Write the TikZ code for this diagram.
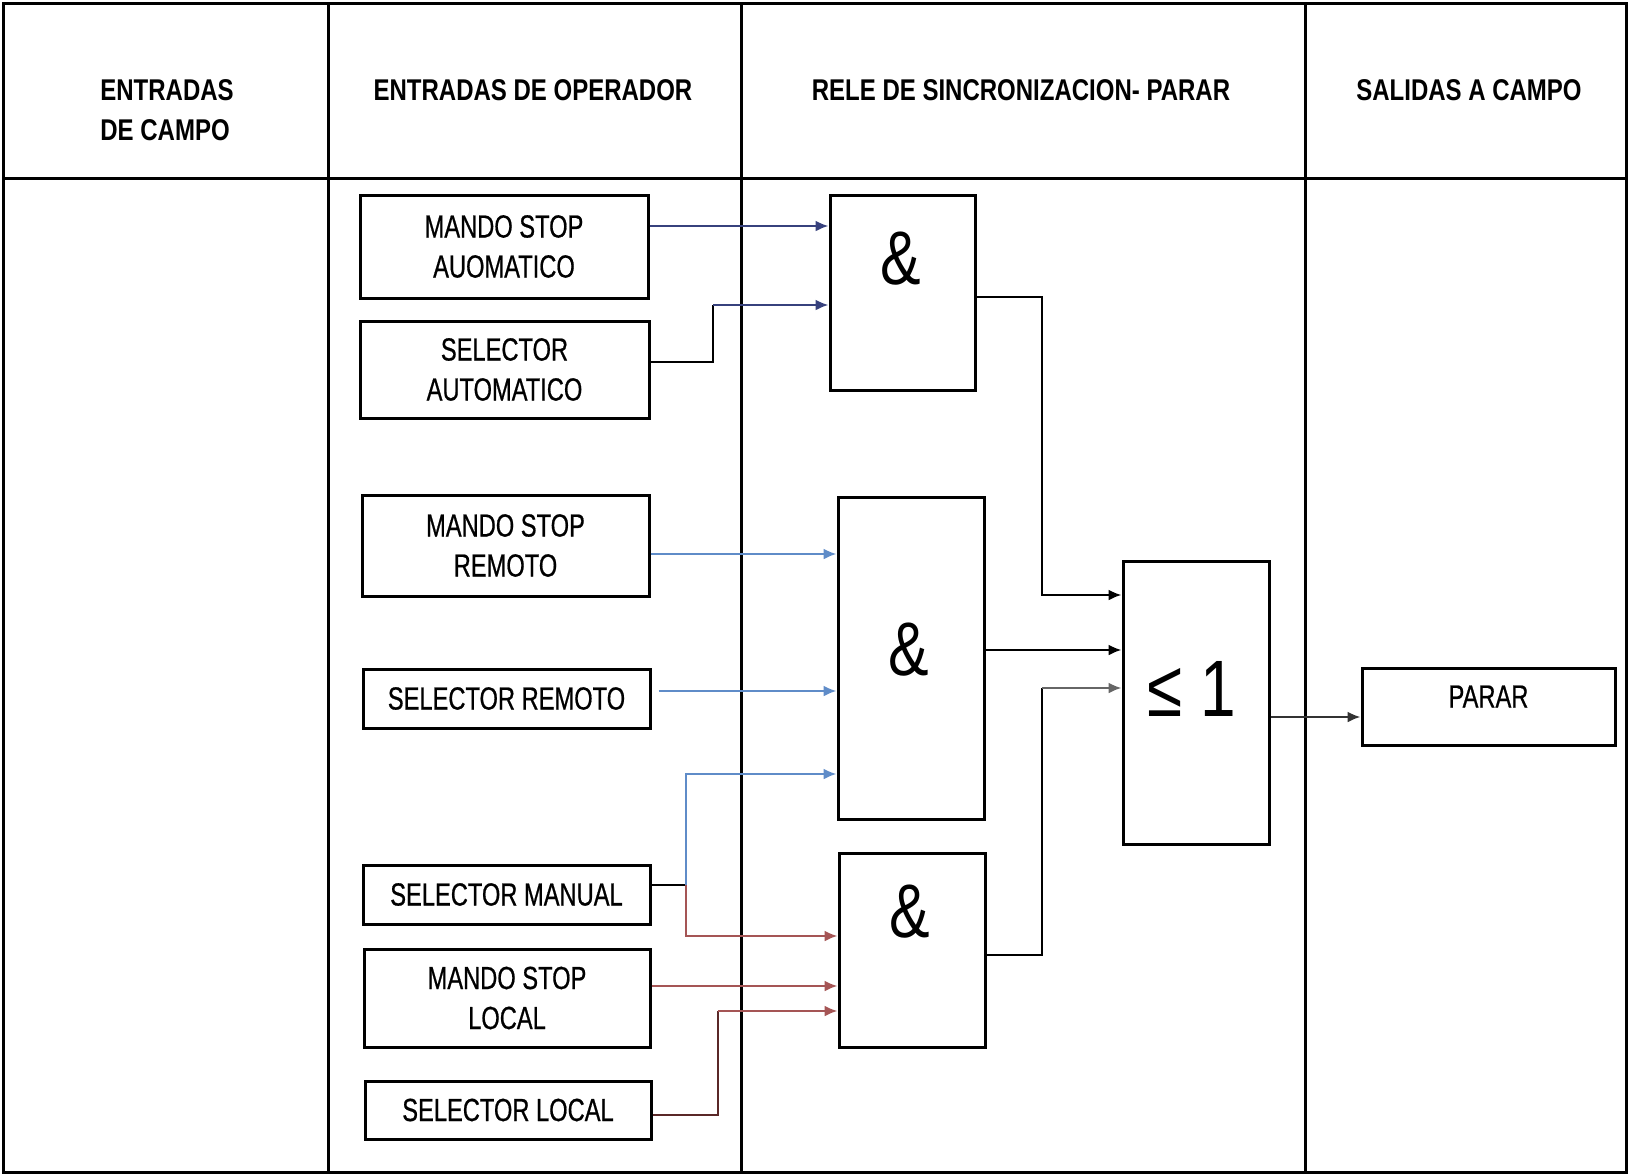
\documentclass[tikz,border=0pt]{standalone}
\usepackage{fontspec}
\setmainfont{Liberation Sans}
\newfontfamily\hfont[FakeStretch=0.80]{Liberation Sans}
\newfontfamily\bfont[FakeStretch=0.74,FakeBold=0.6]{Liberation Sans}
\newfontfamily\gfont[FakeStretch=0.80]{Liberation Sans}
\usetikzlibrary{arrows.meta}
\definecolor{navy}{RGB}{55,65,125}
\definecolor{lblue}{RGB}{95,140,200}
\definecolor{rbrown}{RGB}{165,85,85}
\definecolor{dred}{RGB}{90,40,40}
\tikzset{
  frame/.style={line width=1.5pt},
  box/.style={draw, line width=1.5pt, inner sep=0pt, align=center,
    font=\bfont\fontsize{16}{20}\selectfont},
  gate/.style={draw, line width=1.5pt, inner sep=0pt},
  gatetxt/.style={font=\gfont\fontsize{38}{40}\selectfont, inner sep=0pt},
  hdr/.style={font=\hfont\bfseries\fontsize{15}{20}\selectfont, align=center, inner sep=0pt},
  wire/.style={line width=1.1pt},
  tip/.style={-{Latex[length=6.5pt,width=5.5pt]}},
}
\begin{document}
\begin{tikzpicture}[x=0.5pt,y=-0.5pt]
\useasboundingbox (0,0) rectangle (1629,1174);
% table
\draw[frame] (3,3) rectangle (1626,1172);
\draw[frame] (3,178) -- (1626,178);
\draw[frame] (328,3) -- (328,1172);
\draw[frame] (741,3) -- (741,1172);
\draw[frame] (1305,3) -- (1305,1172);
% headers
\node[hdr, align=left, anchor=west] (h1) at (100,110) {ENTRADAS\\DE CAMPO};
\node[hdr] (h2) at (533,90) {ENTRADAS DE OPERADOR};
\node[hdr] (h3) at (1021,90) {RELE DE SINCRONIZACION- PARAR};
\node[hdr] (h4) at (1469,90) {SALIDAS A CAMPO};
% input boxes
\node[box, minimum width=144pt, minimum height=51.5pt] (msa) at (504,246.5) {MANDO STOP\\AUOMATICO};
\node[box, minimum width=144.5pt, minimum height=48.5pt] (sa) at (504.5,369.5) {SELECTOR\\AUTOMATICO};
\node[box, minimum width=143.5pt, minimum height=50.5pt] (msr) at (505.5,545.5) {MANDO STOP\\REMOTO};
\node[box, minimum width=143.5pt, minimum height=29.5pt] (sr) at (506.5,698.5) {SELECTOR REMOTO};
\node[box, minimum width=143.5pt, minimum height=29.5pt] (sm) at (506.5,894.5) {SELECTOR MANUAL};
\node[box, minimum width=143pt, minimum height=49pt] (msl) at (507,998) {MANDO STOP\\LOCAL};
\node[box, minimum width=143pt, minimum height=29pt] (sl) at (508,1110) {SELECTOR LOCAL};
% gates
\node[gate, minimum width=72.5pt, minimum height=97.5pt] (and1) at (902.5,292.5) {};
\node[gate, minimum width=73pt, minimum height=161pt] (and2) at (911,658) {};
\node[gate, minimum width=73pt, minimum height=97pt] (and3) at (912,950) {};
\node[gate, minimum width=73pt, minimum height=141.5pt] (or) at (1196,702.5) {};
\node[gatetxt] (t1) at (901,259) {\&};
\node[gatetxt] (t2) at (909,650) {\&};
\node[gatetxt] (t3) at (910,912) {\&};
\node[gatetxt, font=\gfont\fontsize{40}{42}\selectfont] (t4) at (1192,689) {≤ 1};
\node[box, minimum width=126.5pt, minimum height=38.5pt,
      label={[font=\bfont\fontsize{16}{20}\selectfont, yshift=5pt]center:PARAR}] (parar) at (1488.5,706.5) {};
% junction points
\coordinate (j1) at (713,305);
\coordinate (j2) at (686,885);
\coordinate (j3) at (718,1011);
\coordinate (j4) at (1042,297);
\coordinate (j5) at (1042,955);
% AND1 inputs
\draw[wire, navy, tip] (msa.east |- 0,226) -- (and1.west |- 0,226);
\draw[wire, black] (sa.east |- 0,362) -- (j1 |- 0,362) -- (j1);
\draw[wire, navy, tip] (j1) -- (and1.west |- j1);
% AND2 inputs
\draw[wire, lblue, tip] (msr.east |- 0,554) -- (and2.west |- 0,554);
\draw[wire, lblue, tip] ([xshift=3.5pt]sr.east |- 0,691) -- (and2.west |- 0,691);
\draw[wire, black] (sm.east |- j2) -- (j2);
\draw[wire, lblue, tip] (j2) -- (j2 |- 0,774) -- (and2.west |- 0,774);
% AND3 inputs
\draw[wire, rbrown, tip] (j2) -- (j2 |- 0,936) -- (and3.west |- 0,936);
\draw[wire, rbrown, tip] (msl.east |- 0,986) -- (and3.west |- 0,986);
\draw[wire, dred] (sl.east |- 0,1115) -- (j3 |- 0,1115) -- (j3);
\draw[wire, rbrown, tip] (j3) -- (and3.west |- j3);
% to OR
\draw[wire, black, tip] (and1.east |- j4) -- (j4) -- (j4 |- 0,595) -- (or.west |- 0,595);
\draw[wire, black, tip] (and2.east |- 0,650) -- (or.west |- 0,650);
\draw[wire, black] (and3.east |- j5) -- (j5) -- (j5 |- 0,688);
\draw[wire, black!60, tip] (j5 |- 0,688) -- (or.west |- 0,688);
% OR out
\draw[wire, black!80, tip] (or.east |- 0,717) -- (parar.west |- 0,717);
\end{tikzpicture}
\end{document}
